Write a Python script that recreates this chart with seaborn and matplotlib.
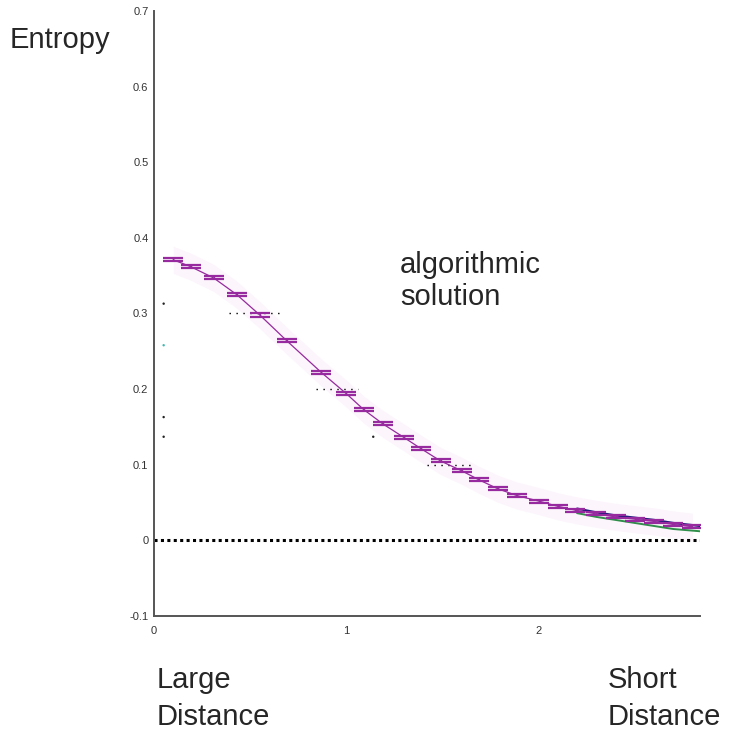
import matplotlib
matplotlib.use("Agg")
import matplotlib.pyplot as plt
import seaborn as sns
import pandas as pd
import numpy as np

# Entropy estimates along the distance axis
distance = [0.10, 0.19, 0.31, 0.43, 0.55, 0.69, 0.87, 1.00, 1.09, 1.19, 1.30,
            1.39, 1.49, 1.60, 1.69, 1.79, 1.89, 2.00, 2.10, 2.19, 2.30, 2.40,
            2.50, 2.60, 2.70, 2.80]
entropy = [0.371, 0.362, 0.347, 0.325, 0.298, 0.264, 0.222, 0.194, 0.173, 0.154,
           0.136, 0.121, 0.105, 0.092, 0.080, 0.068, 0.059, 0.052, 0.045, 0.040,
           0.035, 0.031, 0.028, 0.025, 0.021, 0.018]
spread = [0.002] * len(distance)

# Tail of the companion runs
tail_x = [2.20, 2.30, 2.40, 2.50, 2.60, 2.70, 2.84]
tail_upper = [0.042, 0.037, 0.033, 0.030, 0.027, 0.023, 0.019]
tail_lower = [0.036, 0.031, 0.027, 0.023, 0.019, 0.015, 0.012]

# Dotted reference segments: (level, start, end)
ref_levels = [0.3, 0.2, 0.1]
ref_starts = [0.39, 0.84, 1.42]
ref_ends = [0.66, 1.06, 1.66]

# Scattered single samples near the axis
stray_x = [0.05, 0.05, 0.05, 0.05, 1.14]
stray_y = [0.313, 0.258, 0.163, 0.137, 0.137]
stray_c = ["#222222", "#3fb8b0", "#222222", "#222222", "#222222"]

x_ticks = [0, 1, 2]
y_ticks = [-0.1, 0, 0.1, 0.2, 0.3, 0.4, 0.5, 0.6, 0.7]
y_labels = ["-0.1", "0", "0.1", "0.2", "0.3", "0.4", "0.5", "0.6", "0.7"]

sns.set_theme(style="white")
plt.rcParams["font.family"] = ["Liberation Sans", "DejaVu Sans"]

purple = "#962a9e"
df = pd.DataFrame({"distance": distance, "entropy": entropy})

fig = plt.figure(figsize=(7.37, 7.32), dpi=100)
ax = fig.add_axes([0.209, 0.1585, 0.741, 0.8265])

# faint haze around the curve
ax.fill_between(distance, np.array(entropy) - 0.018, np.array(entropy) + 0.018,
                color="#f6e0f6", alpha=0.3, lw=0)

# zero baseline
sns.lineplot(x=[0, 2.84], y=[0, 0], ax=ax, color="black", lw=2.2,
             linestyle=(0, (1, 1.1)))

for lvl, s, e in zip(ref_levels, ref_starts, ref_ends):
    sns.lineplot(x=[s, e], y=[lvl, lvl], ax=ax, color="black", lw=1.0,
                 linestyle=(0, (1, 4)))

sns.lineplot(x=tail_x, y=tail_upper, ax=ax, color="#1c1a7a", lw=1.6)
sns.lineplot(x=tail_x, y=tail_lower, ax=ax, color="#2f8f4a", lw=1.4)

sns.lineplot(data=df, x="distance", y="entropy", ax=ax, color=purple, lw=0.9)
ax.errorbar(distance, entropy, yerr=spread, fmt="none", ecolor=purple,
            elinewidth=1.0, capsize=7.5, capthick=1.6)

ax.scatter(stray_x, stray_y, s=3, c=stray_c, lw=0, zorder=3)

ax.set_xlim(0, 2.84)
ax.set_ylim(-0.1, 0.7)
ax.set_xticks(x_ticks)
ax.set_xticklabels([str(t) for t in x_ticks])
ax.set_yticks(y_ticks)
ax.set_yticklabels(y_labels)
ax.tick_params(direction="in", length=6, width=1, colors="#222222",
               labelsize=8, labelcolor="#333333", pad=4)
ax.tick_params(axis="x", pad=7)
for side in ["top", "right"]:
    ax.spines[side].set_visible(False)
for side in ["left", "bottom"]:
    ax.spines[side].set_color("#555555")
    ax.spines[side].set_linewidth(1.4)
ax.set_xlabel("")
ax.set_ylabel("")

fig.text(0.013, 0.945, "Entropy", fontsize=21, va="center", ha="left")
ax.text(1.28, 0.364, "algorithmic", fontsize=21, va="center", ha="left")
ax.text(1.28, 0.322, "solution", fontsize=21, va="center", ha="left")
fig.text(0.213, 0.071, "Large", fontsize=21, va="center", ha="left")
fig.text(0.213, 0.021, "Distance", fontsize=21, va="center", ha="left")
fig.text(0.825, 0.071, "Short", fontsize=21, va="center", ha="left")
fig.text(0.825, 0.021, "Distance", fontsize=21, va="center", ha="left")

fig.savefig("out.png", dpi=100)
